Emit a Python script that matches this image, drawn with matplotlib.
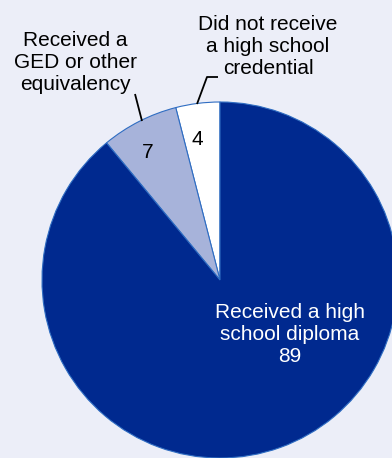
import numpy as np
import matplotlib
matplotlib.use('Agg')
import matplotlib.pyplot as plt

plt.rcParams['font.family'] = ['Liberation Sans', 'DejaVu Sans']

# shares of students by credential (percent)
categories = ['Did not receive\na high school\ncredential',
              'Received a\nGED or other\nequivalency',
              'Received a high\nschool diploma']
values = [4, 7, 89]
colors = ['#FFFFFF', '#A7B3DA', '#00298F']

bg = '#ECEEF8'
W, H = 392, 458
cx, cy, r = 220, 280, 178   # pie centre and radius in pixels


def px(x, y):
    # pixel position -> data units of the pie
    return (x - cx) / r, (cy - y) / r


fig = plt.figure(figsize=(W / 100, H / 100), dpi=100, facecolor=bg)
ax = fig.add_axes([0, 0, 1, 1])
ax.set_facecolor(bg)

wedges, _ = ax.pie(values, colors=colors, startangle=90, counterclock=True,
                   radius=1.0,
                   wedgeprops=dict(edgecolor='#2F6DC2', linewidth=0.8))

x0, y1 = px(0, 0)
x1, y0 = px(W, H)
ax.set_xlim(x0, x1)
ax.set_ylim(y0, y1)
ax.set_aspect('equal')
ax.axis('off')

fs = 15
ls = 1.2

# small values inside their wedges
for w, v, rr, dang in zip(wedges[:2], values[:2], [0.80, 0.825], [2.0, 2.4]):
    ang = np.deg2rad((w.theta1 + w.theta2) / 2 + dang)
    ax.text(rr * np.cos(ang), rr * np.sin(ang), str(v), ha='center', va='center',
            fontsize=fs, color='black')

# big wedge label
tx, ty = px(290, 335)
ax.text(tx, ty, '{}\n{}'.format(categories[2], values[2]), ha='center', va='center',
        fontsize=fs, color='white', linespacing=ls)

# outside labels with leader lines
tx, ty = px(268, 46)
ax.text(tx, ty, categories[0], ha='center', va='center', fontsize=fs,
        color='black', linespacing=ls)
lx, ly = zip(px(218, 77), px(207, 77), px(197, 104))
ax.plot(lx, ly, color='black', lw=1.3, solid_capstyle='butt')

tx, ty = px(75, 62)
ax.text(tx, ty, categories[1], ha='center', va='center', fontsize=fs,
        color='black', linespacing=ls)
lx, ly = zip(px(135, 94), px(142, 121))
ax.plot(lx, ly, color='black', lw=1.3, solid_capstyle='butt')

fig.savefig('out.png', dpi=100, facecolor=bg)
